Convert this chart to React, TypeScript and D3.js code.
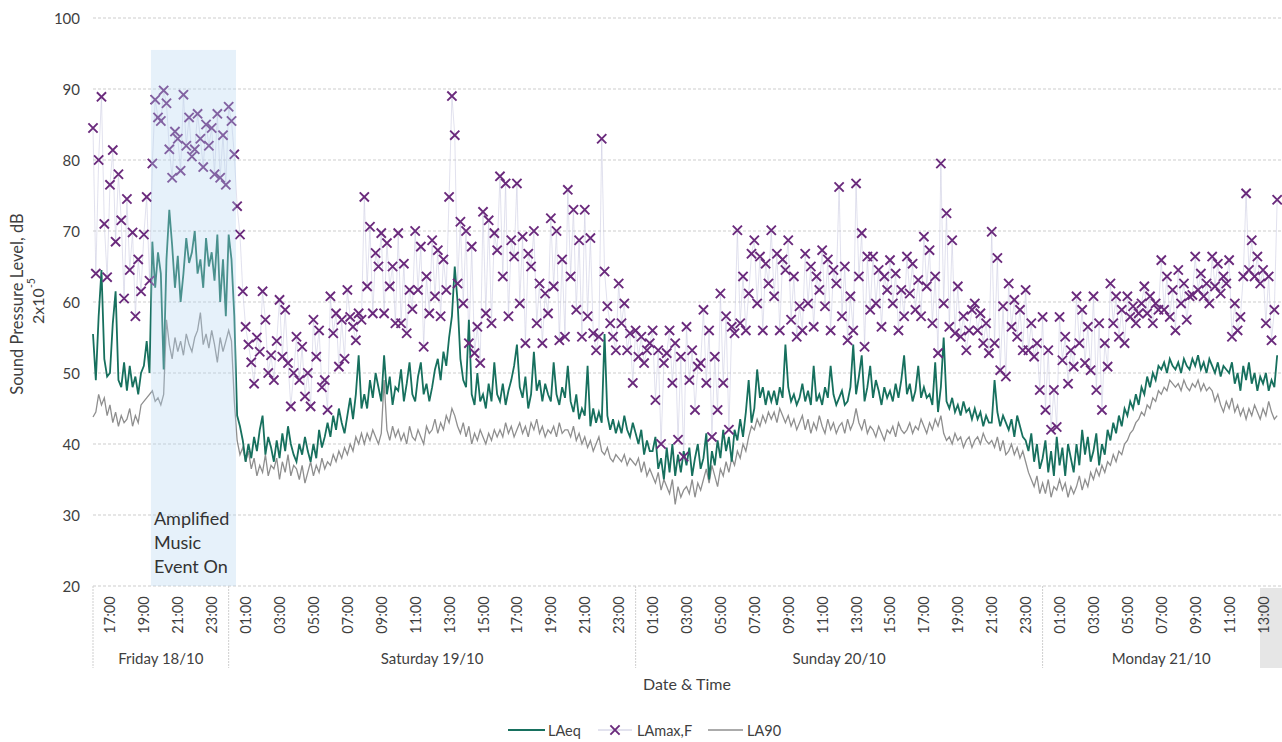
import React from "react";
import * as d3 from "d3";

// ---- time frame (10-minute samples from Fri 18/10 16:00) ----
const START = new Date(2019, 9, 18, 16, 0);
const END = new Date(2019, 9, 21, 14, 0);
const STEP_MIN = 10;
const EVENT_START = new Date(2019, 9, 18, 19, 25);
const EVENT_END = new Date(2019, 9, 19, 0, 26);
const EVENT_TOP = 95.5;
const EVENT_LABEL = ["Amplified", "Music", "Event On"];

const yTicks = [20, 30, 40, 50, 60, 70, 80, 90, 100];
const dayLabels = ["Friday 18/10", "Saturday 19/10", "Sunday 20/10", "Monday 21/10"];
const seriesNames = ["LAeq", "LAmax,F", "LA90"];

// LAeq, dB (6 values per hour)
const laeq = [
  55.5, 49, 58, 64.5, 52, 49.5,
  50, 57, 61.5, 49, 48, 51.5,
  47.5, 51, 48, 49.5, 47, 50,
  51, 54.5, 50, 68.5, 62, 67,
  64, 50.5, 66, 73, 68, 62,
  66.5, 60, 64, 69, 65.5, 67,
  70, 64, 66, 62, 69, 65,
  67, 63, 69.5, 60, 66, 58,
  69.5, 66, 58, 44, 42.5, 40.5,
  37.5, 40, 38, 41, 39, 42,
  44, 38.5, 41, 39.5, 37.5, 40.5,
  38, 41.5, 39, 42.5, 40, 38.5,
  37.5, 40, 38.5, 41, 39, 37.5,
  40, 38, 42, 39.5, 41, 43,
  41, 44, 42, 45, 43, 41.5,
  44, 46.5, 43.5, 47, 52.5, 45,
  47, 45, 49, 46.5, 50, 48,
  46, 52.5, 47, 49.5, 45.5, 48,
  47.5, 50.5, 46, 48.5, 51.5, 47,
  46, 49.5, 51.5, 47, 48.5, 46,
  48, 50.5, 52, 49, 53, 51,
  55, 58, 65, 60, 52, 49,
  48, 57.5, 47, 45.5, 50, 46,
  47, 45, 48.5, 46, 51.5, 47,
  46, 48.5, 45.5, 47.5, 49, 51,
  54, 48, 46.5, 49.5, 45, 47,
  53, 47.5, 49, 46, 48.5, 47,
  46, 51.5, 47, 45.5, 48, 46.5,
  51, 46, 44.5, 47, 43.5, 45,
  44, 51, 42.5, 45, 43, 44.5,
  43, 55.5, 44, 42, 43.5, 41.5,
  43, 41.5, 44, 42, 41, 43,
  41.5, 40, 42, 38.5, 40.5, 39,
  39, 41, 36.5, 38, 35, 39.5,
  36, 40, 35.5, 38.5, 36, 39,
  37, 39.5, 35.5, 38, 40, 36.5,
  38, 41.5, 35, 39, 37, 40.5,
  38, 42, 39, 41, 37.5, 42,
  40.5, 43.5, 41, 44.5, 49, 43,
  45, 50.5, 46.5, 48, 45.5, 47.5,
  46, 47.5, 45.5, 48, 46.5, 54,
  48, 46, 47, 45.5, 46.5, 48.5,
  46, 47.5, 45.5, 51, 46, 47,
  45.5, 48, 46.5, 51, 47, 45.5,
  46.5, 47.5, 45.5, 46, 48, 54,
  47, 49.5, 52.5, 46, 48, 51,
  46.5, 49, 47.5, 45.5, 48, 46.5,
  47.5, 46, 48.5, 46.5, 49, 52.5,
  47, 48.5, 46, 47.5, 51, 46.5,
  48, 46.5, 47, 45.5, 51.5, 44.5,
  48, 55, 46, 45, 46.5, 44.5,
  45.5, 44, 46, 44.5, 45, 43.5,
  45, 43.5, 44.5, 42.5, 44, 43,
  43, 49, 44.5, 42.5, 44, 43,
  42, 43.5, 41, 44, 42.5, 41,
  40.5, 39, 41.5, 37.5, 40, 36.5,
  38, 40.5, 36, 39, 35.5, 41,
  37, 39.5, 35.5, 40, 38, 36,
  40, 37, 42, 38.5, 41, 37.5,
  39, 41.5, 37, 40, 38.5, 42,
  40.5, 43, 41.5, 44, 42.5, 45,
  44, 46, 45, 47, 45.5, 48,
  47, 49.5, 48, 50, 49, 51,
  50.5, 51.5, 50, 52, 51, 50.5,
  51.5, 50, 52, 51, 50.5, 52,
  51, 52.5, 50.5, 51.5, 50, 52,
  51, 50, 51.5, 49.5, 51, 50.5,
  50, 51.5, 48.5, 50, 47.5, 51,
  49, 51.5, 48.5, 50, 47.5, 49.5,
  48.5, 50, 47.5, 49, 48, 52.5,
];

// LA90, dB
const la90 = [
  43.8, 44.5, 47, 45.5, 46.5, 44,
  45.5, 43, 44.5, 42.5, 44, 43,
  43.5, 45, 42.5, 44, 43, 45.5,
  46, 46.5, 47, 47.5, 46, 46.5,
  45.5, 47, 57.5, 54, 52, 55,
  53, 54.5, 52.5, 55.5, 54, 53,
  55, 56, 58.5, 54, 55.5, 53.5,
  56, 54, 51.5, 55, 53, 54.5,
  56, 54.5, 46, 40.5, 38.5, 39.5,
  37.5, 39, 36.5, 38, 35.5, 37,
  36, 38.5, 35.5, 37, 36.5, 38,
  35, 37.5, 36, 38.5, 35.5, 37,
  36.5, 35, 37, 34.5, 36, 37.5,
  35.5, 37, 36, 38, 36.5, 37.5,
  37, 38.5, 37.5, 39, 38, 39.5,
  38.5, 40, 39, 41, 40, 41.5,
  40, 41.5, 40.5, 42, 41, 40,
  41.5, 49, 42, 40.5, 42.5, 41,
  42, 40.5, 41.5, 40, 42.5, 41,
  40.5, 42, 41, 40, 42.5, 41.5,
  42, 43.5, 41.5, 43, 42, 44,
  43, 45, 44, 42.5, 41.5, 43,
  41, 42.5, 40, 41.5, 40.5, 42,
  41, 40, 41.5, 40.5, 42, 41,
  42, 41, 43, 41.5, 42.5, 41,
  42, 43, 41.5, 42.5, 41, 43,
  42, 43.5, 41.5, 42.5, 41, 42,
  41.5, 42.5, 41, 43, 41.5, 42,
  42, 41, 42.5, 40.5, 41.5, 40,
  41, 39.5, 40.5, 39, 40, 41,
  39, 38.5, 39.5, 38, 37.5, 38.5,
  38, 37.5, 38.5, 37, 38, 37.5,
  37, 38, 36, 37.5, 35.5, 36.5,
  35.5, 34.5, 36, 33.5, 35, 34,
  33, 35, 31.5, 34, 32.5, 33.5,
  34, 33, 35, 32.5, 34.5, 33.5,
  35, 36.5, 34.5, 37, 35.5, 34,
  36.5, 35.5, 37.5, 36, 38, 37,
  39, 38, 40, 39, 41, 42.5,
  42, 43.5, 42.5, 44, 43, 44.5,
  43.5, 44.5, 43, 45, 44, 43,
  44, 42.5, 43.5, 42, 43, 44,
  42, 43.5, 41.5, 43, 42, 44,
  42.5, 41.5, 43.5, 42, 43, 41.5,
  42.5, 43, 41.5, 43.5, 42, 43,
  45, 43, 42, 43.5, 41.5, 42.5,
  42, 41, 42.5, 41.5, 40.5, 42,
  41.5, 42.5, 41, 43, 42, 41.5,
  42, 43, 41.5, 42.5, 42, 43.5,
  42.5, 41.5, 43, 42, 43.5, 42.5,
  44, 41.5, 40.5, 41, 40, 41.5,
  40.5, 41, 39.5, 40.5, 41, 39.5,
  40.5, 41, 40, 41.5, 40.5, 40,
  40.5, 39.5, 41, 39, 40.5, 38.5,
  39, 40, 38.5, 39.5, 38, 39,
  37.5, 36, 35, 34, 35.5, 33,
  34.5, 33, 35, 32.5, 34, 33.5,
  35, 33.5, 34.5, 32.5, 34, 33,
  34, 35.5, 33.5, 35, 34, 36,
  35, 36.5, 35.5, 37, 36, 37.5,
  37, 38.5, 37.5, 39, 38.5, 40,
  40.5, 41.5, 42, 43, 43.5, 44.5,
  44, 45.5, 45, 46.5, 46, 47.5,
  47, 48, 47.5, 49, 48.5, 48,
  48.5, 47.5, 49, 48, 47.5, 48.5,
  48, 49, 47.5, 48.5, 47.5, 48,
  47.5, 46, 47, 45.5, 44.5, 46,
  45, 46.5, 44.5, 45.5, 44, 45,
  43.5, 45, 44, 45.5, 44.5, 43.5,
  45, 44, 46, 44.5, 43.5, 44,
];

// LAmax,F, dB
const lamax = [
  84.5, 64, 80, 88.9, 71, 63.5,
  76.5, 81.4, 68.5, 78, 71.5, 60.5,
  74.5, 64.5, 69.8, 58, 66, 61.5,
  69.5, 74.8, 63, 79.5, 88.5, 86,
  85.5, 89.8, 88, 81.5, 77.5, 84,
  83, 78.5, 89.2, 82, 86, 80.5,
  81.5, 86.5, 83, 79, 85, 82,
  84.5, 78, 86.5, 77.5, 83.5, 76.5,
  87.5, 85.5, 80.8, 73.5, 69.5, 61.5,
  56.5, 54, 51.5, 48.5, 55, 53,
  61.5, 57.5, 50, 52.5, 49, 54.5,
  60.3, 52.3, 58.9, 51.4, 45.3, 50,
  55.1, 49, 53.7, 46.7, 50, 45.3,
  57.5, 52.3, 56, 48, 49, 44.8,
  60.8, 55.6, 58.4, 50.9, 57.5, 52,
  61.7, 57.9, 56.5, 54.6, 58.4, 57.5,
  74.8, 62.2, 70.6, 58.4, 66.9, 65,
  69.7, 58.4, 68.3, 62.2, 65, 57,
  69.7, 57, 65.4, 55.6, 61.7, 59,
  70, 61.7, 67.8, 53.7, 63.6, 58.4,
  68.7, 60.8, 67.3, 58, 66, 61.7,
  74.8, 89, 83.5, 62.6, 71.3, 59.8,
  70, 54.2, 67.8, 52.8, 56.5, 51.4,
  72.7, 58.4, 71.5, 57, 69.7, 67.3,
  77.7, 63.6, 76.7, 58, 68.7, 66.4,
  76.7, 59.8, 69.2, 54.2, 66.8, 65,
  70, 57, 62.6, 54.2, 61.2, 58.4,
  71.8, 62.2, 70, 54.6, 66, 55.1,
  75.8, 63.6, 73, 58.9, 68.7, 55.1,
  73, 58, 69, 55.6, 53.2, 55.1,
  83, 64.3, 59.4, 57, 55.1, 53.2,
  62.6, 57, 59.8, 53.2, 55.6, 48.6,
  56, 52.3, 55.1, 51.4, 53.2, 54.2,
  56, 46.2, 53.2, 40, 51.4, 52.8,
  56, 48.6, 54.2, 40.6, 52.3, 38.2,
  56.5, 49, 53.2, 44.8, 50.9, 51.4,
  58.9, 48.6, 56, 41, 52.3, 44.8,
  61.2, 48.6, 58, 42, 56.5, 55.6,
  70.1, 57, 63.6, 56, 61.2, 66.8,
  68.7, 59.8, 66.4, 56, 65.4, 62.6,
  70.1, 60.8, 66.8, 56, 66, 64.5,
  68.7, 57.5, 63.6, 55.1, 59.4, 56,
  66.8, 59.8, 65, 56.5, 63.6, 61.7,
  67.3, 59.4, 66, 56, 64.5, 62.6,
  76.2, 58, 65, 54.6, 60.8, 56,
  76.7, 63.6, 69.7, 53.7, 66.4, 58.9,
  66.4, 59.8, 64.5, 56.5, 63.6, 61.7,
  65.9, 59.8, 64, 56, 61.7, 58,
  66.4, 61.2, 65.4, 58.9, 63.1, 58,
  69.2, 62.2, 67.3, 57, 63.6, 52.8,
  79.5, 59.8, 72.5, 56.5, 68.7, 55.6,
  62.2, 55.1, 58, 53.2, 56, 58.9,
  59.8, 56, 58.4, 54.2, 57, 52.8,
  69.9, 54.2, 66.2, 50.4, 59.4, 49.5,
  62.6, 56.5, 60.3, 55.1, 58.9, 53.2,
  61.7, 53.2, 57, 52.3, 54.2, 47.6,
  57.9, 44.8, 53.2, 42, 47.6, 42.4,
  57.9, 51.8, 55.1, 48.5, 53.2, 50.9,
  60.8, 54.2, 58.9, 51.4, 56.5, 50.4,
  60.8, 47.6, 57, 44.8, 54.2, 50.9,
  62.6, 57, 60.8, 55.1, 58.9, 54.2,
  60.8, 57.9, 59.4, 57, 58.4, 59.8,
  62.2, 58.4, 60.8, 57, 59.8, 58.9,
  65.9, 58.9, 63.6, 57.9, 61.7, 56,
  64.5, 59.8, 62.6, 57.5, 60.8, 61,
  66.4, 61.7, 64, 60.8, 62.6, 59.8,
  66.4, 62.2, 65.4, 61.2, 63.6, 62.6,
  65.9, 55.1, 59.8, 56, 57.9, 63.6,
  75.3, 64.5, 68.7, 63.6, 66.4, 62.6,
  64.5, 57, 63.6, 54.6, 58.9, 74.4,
];

const FONT = "Lato, 'Open Sans', sans-serif";
const TXT = "#3f3f3f";
const C_LAEQ = "#17705e";
const C_LA90 = "#8f8f8f";
const C_MAX = "#6a2a7c";
const C_MAXLINE = "#c6c6de";

export default function App() {
  const W = 1282;
  const H = 742;
  const left = 93;
  const right = 1280;
  const top = 18;
  const bottom = 586;
  const axisBottom = 668;

  const x = d3.scaleTime().domain([START, END]).range([left, right]);
  const y = d3.scaleLinear().domain([20, 100]).range([bottom, top]);

  const t = (i: number) => d3.timeMinute.offset(START, i * STEP_MIN);

  const lineGen = (arr: number[]) =>
    d3
      .line<number>()
      .x((_, i) => x(t(i)))
      .y((d) => y(d))(arr) || "";

  const hours = d3.timeHour.range(START, END).filter((d) => d.getHours() % 2 === 1);
  const fmt = d3.timeFormat("%H:%M");
  const midnights = d3.timeDay.range(d3.timeMinute.offset(START, 1), END);
  const bounds = [START, ...midnights, END];

  const cross = "M-4.6,-4.6L4.6,4.6M-4.6,4.6L4.6,-4.6";

  const ex0 = x(EVENT_START);
  const ex1 = x(EVENT_END);

  return (
    <svg
      width={W}
      height={H}
      style={{ position: "absolute", left: 0, top: 0, display: "block", background: "#fff" }}
      fontFamily={FONT}
    >
      {/* gridlines */}
      {yTicks.map((v) => (
        <line
          key={"g" + v}
          x1={left}
          x2={W}
          y1={y(v)}
          y2={y(v)}
          stroke="#cdcdcd"
          strokeWidth={1}
          strokeDasharray="3,2"
        />
      ))}
      {/* y tick labels */}
      {yTicks.map((v) => (
        <text
          key={"yl" + v}
          x={80}
          y={y(v)}
          textAnchor="end"
          dominantBaseline="central"
          fontSize={15}
          fill={TXT}
        >
          {v}
        </text>
      ))}

      {/* x axis frame: separators */}
      {bounds.slice(0, -1).map((b, i) => (
        <line
          key={"sep" + i}
          x1={x(b)}
          x2={x(b)}
          y1={bottom}
          y2={axisBottom}
          stroke="#cfcfcf"
          strokeWidth={1}
          strokeDasharray="2,1"
        />
      ))}
      <rect x={1260} y={588} width={22} height={80} fill="#e6e6e6" />

      {/* hour labels */}
      {hours.map((h, i) => (
        <text
          key={"h" + i}
          transform={`translate(${x(h)},${615}) rotate(-90)`}
          textAnchor="middle"
          dominantBaseline="central"
          fontSize={14.5}
          fill={TXT}
        >
          {fmt(h)}
        </text>
      ))}
      {/* day labels */}
      {dayLabels.map((lbl, i) => (
        <text
          key={"d" + i}
          x={(x(bounds[i]) + x(bounds[i + 1])) / 2}
          y={658}
          textAnchor="middle"
          dominantBaseline="central"
          fontSize={15}
          fill={TXT}
        >
          {lbl}
        </text>
      ))}
      <text x={687} y={683} textAnchor="middle" dominantBaseline="central" fontSize={16} fill={TXT}>
        Date &amp; Time
      </text>

      {/* y title */}
      <text
        transform={`translate(17,304) rotate(-90)`}
        textAnchor="middle"
        dominantBaseline="central"
        fontSize={16.5}
        fill={TXT}
      >
        Sound Pressure Level, dB
      </text>
      <text
        transform={`translate(37,301) rotate(-90)`}
        textAnchor="middle"
        dominantBaseline="central"
        fontSize={16}
        fill={TXT}
      >
        2x10
        <tspan fontSize={10.5} dy={-6}>
          -5
        </tspan>
      </text>

      {/* series */}
      <path d={lineGen(lamax)} fill="none" stroke={C_MAXLINE} strokeWidth={0.7} opacity={0.75} />
      <path d={lineGen(la90)} fill="none" stroke={C_LA90} strokeWidth={1.3} />
      <path d={lineGen(laeq)} fill="none" stroke={C_LAEQ} strokeWidth={1.8} />
      {lamax.map((v, i) => (
        <path
          key={"m" + i}
          d={cross}
          transform={`translate(${x(t(i))},${y(v)})`}
          stroke={C_MAX}
          strokeWidth={1.9}
          fill="none"
        />
      ))}

      {/* event shading */}
      <rect
        x={ex0}
        y={y(EVENT_TOP)}
        width={ex1 - ex0}
        height={bottom - y(EVENT_TOP)}
        fill="#b3d6f1"
        opacity={0.33}
      />
      {EVENT_LABEL.map((s, i) => (
        <text key={"ev" + i} x={ex0 + 3} y={525 + i * 24} fontSize={18} fill="#333">
          {s}
        </text>
      ))}

      {/* legend */}
      <g fontSize={14.5} fill={TXT}>
        <line x1={508} x2={545} y1={730} y2={730} stroke={C_LAEQ} strokeWidth={2} />
        <text x={548} y={730} dominantBaseline="central">
          {seriesNames[0]}
        </text>
        <line x1={598} x2={632} y1={730} y2={730} stroke={C_MAXLINE} strokeWidth={1} />
        <path d={cross} transform="translate(615,730)" stroke={C_MAX} strokeWidth={1.9} fill="none" />
        <text x={637} y={730} dominantBaseline="central">
          {seriesNames[1]}
        </text>
        <line x1={708} x2={743} y1={730} y2={730} stroke={C_LA90} strokeWidth={1.3} />
        <text x={747} y={730} dominantBaseline="central">
          {seriesNames[2]}
        </text>
      </g>
    </svg>
  );
}
